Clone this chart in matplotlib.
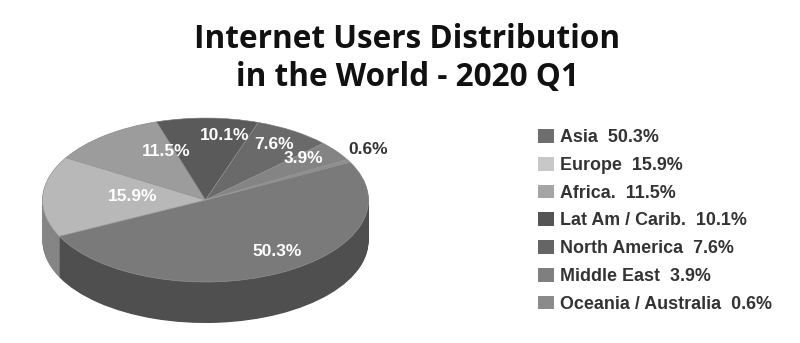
import matplotlib
matplotlib.use("Agg")
import matplotlib.pyplot as plt
from matplotlib.patches import Patch

# ---- data ----
regions = ["Asia", "Europe", "Africa.", "Lat Am / Carib.", "North America",
           "Middle East", "Oceania / Australia"]
shares = [50.3, 15.9, 11.5, 10.1, 7.6, 3.9, 0.6]
title_lines = ["Internet Users Distribution", "in the World - 2020 Q1"]

# ---- styles ----
top_colors = ["#7a7a7a", "#b8b8b8", "#9c9c9c", "#5a5a5a", "#6a6a6a", "#848484", "#8e8e8e"]
side_colors = ["#4f4f4f", "#858585", "#6c6c6c", "#3a3a3a", "#454545", "#5a5a5a", "#606060"]
legend_colors = ["#6e6e6e", "#c8c8c8", "#a5a5a5", "#555555", "#656565", "#7f7f7f", "#8a8a8a"]
start_angle = 27.5
depth = 0.5
n_layers = 60
# label positions (data units of the top ellipse)
label_pos = [(0.44, -0.63), (-0.45, 0.04), (-0.24, 0.59), (0.12, 0.79),
             (0.42, 0.68), (0.60, 0.51), (1.00, 0.62)]
label_colors = ["white"] * 6 + ["#333333"]

W, H = 800, 343
fig = plt.figure(figsize=(W / 100, H / 100), dpi=100)

# pie axes: 1 unit = 163 px in x, 82 px in y
cx, cy = 205.5, 200.0
rx, ry = 163.0, 82.0
xl = (-1.1, 1.1)
yl = (-1.6, 1.1)
left = cx + xl[0] * rx
bottom_px = (H - cy) + yl[0] * ry
ax = fig.add_axes([left / W, bottom_px / H, (xl[1] - xl[0]) * rx / W, (yl[1] - yl[0]) * ry / H])

for i in range(n_layers):
    yc = -depth + depth * i / (n_layers - 1) * 0.999
    ax.pie(shares, colors=side_colors, startangle=start_angle, counterclock=False,
           center=(0, yc), radius=1.0, wedgeprops=dict(linewidth=0, edgecolor="none"))

wedges, _, autotexts = ax.pie(shares, colors=top_colors, startangle=start_angle,
                              counterclock=False, center=(0, 0), radius=1.0,
                              autopct=lambda p: f"{p:.1f}%",
                              wedgeprops=dict(linewidth=0.4, edgecolor="#9a9a9a"))
for t, v, pos, c in zip(autotexts, shares, label_pos, label_colors):
    t.set_text(f"{v}%")
    t.set_position(pos)
    t.set_color(c)
    t.set_fontsize(12.5)
    t.set_fontweight("bold")
    t.set_family("Liberation Sans")
    t.set_ha("center")
    t.set_va("center")

ax.set_aspect("auto")
ax.set_xlim(*xl)
ax.set_ylim(*yl)
ax.axis("off")

# title (two lines)
for line, base in zip(title_lines, [48, 86]):
    fig.text(407 / W, 1 - base / H, line, ha="center", va="baseline", fontsize=22.7,
             fontweight="bold", family="Open Sans", color="#111111")

# legend
handles = [Patch(facecolor=c, edgecolor="none") for c in legend_colors]
labels = [f"{r}  {v}%" for r, v in zip(regions, shares)]
fig.legend(handles, labels, loc="upper left", bbox_to_anchor=(538 / W, 1 - 129 / H),
           frameon=False, prop=dict(family="Liberation Sans", weight="bold", size=12.9),
           handlelength=0.9, handleheight=0.82, handletextpad=0.32,
           labelspacing=0.59, borderaxespad=0, borderpad=0, labelcolor="#333333")

fig.savefig("out.png", dpi=100, facecolor="white")
